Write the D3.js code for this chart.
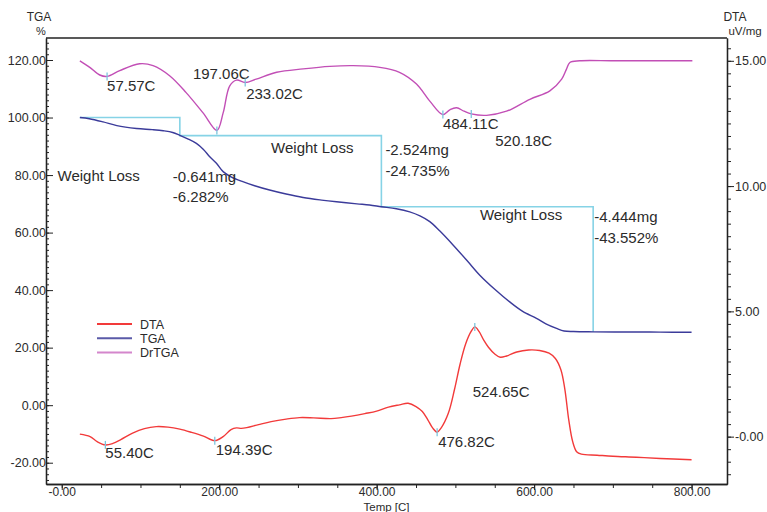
<!DOCTYPE html>
<html>
<head>
<meta charset="utf-8">
<script src="https://cdn.jsdelivr.net/npm/d3@7/dist/d3.min.js"></script>
<style>
  html, body { margin: 0; padding: 0; background: #fff; }
  svg { display: block; font-family: "Liberation Sans", Arial, sans-serif; }
</style>
</head>
<body>
<svg id="chart" width="767" height="512"></svg>
<script>
// ---- Thermal analysis data (temperature in C) ----
// TGA: residual mass, %
const tgaData = [
  [23, 100.0], [35, 99.6], [52.5, 98.5], [70, 97.2], [95, 96.2], [115, 95.8],
  [129, 95.4], [141, 94.8], [150, 93.8], [160, 92.6], [171, 91.0], [180, 88.9],
  [188, 86.4], [196.5, 84.1], [205, 81.2], [215, 79.4], [230, 77.7], [245, 76.3],
  [264, 74.8], [285, 73.4], [306.6, 72.2], [330, 71.3], [349, 70.7], [375, 70.0],
  [391, 69.6], [406, 69.0], [425, 68.3], [442, 67.2], [455, 65.8], [467.5, 63.8],
  [480, 60.6], [497, 55.7], [515, 50.2], [531, 45.2], [550, 40.3], [569, 35.9],
  [585, 32.7], [603, 30.2], [615, 28.3], [628.5, 26.7], [638, 25.8], [650, 25.6],
  [675, 25.5], [720, 25.45], [760, 25.4], [800, 25.35]
];

// DTA: uV/mg
const dtaData = [
  [23, 0.10], [36, 0.00], [45, -0.20], [55.4, -0.33], [65, -0.27], [75, -0.12],
  [90, 0.14], [105, 0.32], [120, 0.40], [135, 0.38], [150, 0.30], [165, 0.17],
  [180, 0.02], [194.4, -0.16], [205, 0.00], [215, 0.28], [222, 0.35], [228, 0.33],
  [235, 0.36], [250, 0.48], [266, 0.60], [285, 0.70], [302, 0.76], [320, 0.75],
  [342, 0.72], [355, 0.76], [368, 0.82], [385, 0.92], [400, 1.02], [415, 1.18],
  [429, 1.27], [440, 1.33], [450, 1.20], [458, 1.00], [465, 0.67], [471, 0.35],
  [476.8, 0.18], [482, 0.35], [491, 0.93], [499, 1.90], [506, 2.90], [513, 3.70],
  [520, 4.20], [524.7, 4.38], [530, 4.20], [536, 3.85], [542, 3.57], [550, 3.30],
  [557, 3.17], [565, 3.22], [578, 3.38], [593, 3.46], [607, 3.44], [619, 3.33],
  [627, 3.12], [634, 2.67], [639, 1.90], [644, 0.67], [649, -0.20], [654, -0.60],
  [660, -0.70], [680, -0.74], [700, -0.78], [730, -0.82], [760, -0.87], [800, -0.92]
];

// DrTGA: mass-loss rate, %/min
const drtgaData = [
  [23, 0.00], [35.6, -0.046], [48.3, -0.100], [57.6, -0.110], [73.7, -0.069],
  [99, -0.021], [116, -0.034], [137, -0.105], [158, -0.224], [179.5, -0.367],
  [197.1, -0.490], [205, -0.367], [213.4, -0.176], [222, -0.136], [233, -0.153],
  [247, -0.129], [273, -0.081], [306.6, -0.057], [340.5, -0.039], [370, -0.034],
  [404, -0.046], [429, -0.081], [450.6, -0.164], [467.5, -0.284], [484.1, -0.379],
  [493, -0.345], [501.5, -0.331], [511, -0.355], [520.2, -0.374], [539.6, -0.384],
  [565, -0.355], [594.6, -0.271], [620, -0.212], [635, -0.129], [641, -0.060],
  [645.4, -0.012], [658, 0.00], [700, 0.00], [750, 0.00], [801, 0.00]
];

// Labelled peaks: [temperature, signal value]
const drtgaPeaks = [[57.57, -0.110], [197.06, -0.490], [233.02, -0.153], [484.11, -0.379], [520.18, -0.374]];
const dtaPeaks   = [[55.40, -0.33], [194.39, -0.16], [476.82, 0.18], [524.65, 4.38]];

// Weight-loss steps
const stepStartTemp = 23;
const stepTemps = [150, 406, 675];
const lossMg    = [-0.641, -2.524, -4.444];
const lossPct   = [-6.282, -24.735, -43.552];

// Axis ticks
const xTicks = [0, 200, 400, 600, 800];
const xTickLabels = ["-0.00", "200.00", "400.00", "600.00", "800.00"];
const tgaTicks = [-20, 0, 20, 40, 60, 80, 100, 120];
const tgaTickLabels = ["-20.00", "0.00", "20.00", "40.00", "60.00", "80.00", "100.00", "120.00"];
const dtaTicks = [0, 5, 10, 15];
const dtaTickLabels = ["-0.00", "5.00", "10.00", "15.00"];

const seriesNames = ["DTA", "TGA", "DrTGA"];

// ---- Layout ----
const svg = d3.select("#chart");
const L = 46, R = 727, T = 38, B = 484;
const colors = { DTA: "#f23a3a", TGA: "#3b3b9a", DrTGA: "#c24fb6", step: "#86d3e6", mark: "#7cc6de" };
const textColor = "#2b2b2b";

const x  = d3.scaleLinear().domain([-20, 845]).range([L, R]);
const yL = d3.scaleLinear().domain([-27.4, 127.65]).range([B, T]);
const yR = d3.scaleLinear().domain([-1.89, 15.91]).range([B, T]);
const yD = d3.scaleLinear().domain([-0.5, 0]).range([yR(15) + 71, yR(15)]);

// ---- Axes ----
function styleAxis(g, size) {
  g.selectAll("path.domain").attr("stroke", "#222").attr("stroke-width", 1.3);
  g.selectAll(".tick line").attr("stroke", "#222").attr("stroke-width", 1);
  g.selectAll(".tick text").attr("fill", textColor).style("font-size", size + "px");
}

// bottom
const xMinor = d3.range(0, 801, 50);
svg.append("g").attr("transform", `translate(0,${B})`)
  .call(d3.axisBottom(x).tickValues(xMinor).tickSize(4).tickSizeOuter(0).tickFormat(""))
  .call(g => styleAxis(g, 12));
svg.append("g").attr("transform", `translate(0,${B})`)
  .call(d3.axisBottom(x).tickValues(xTicks).tickSize(6).tickSizeOuter(0).tickPadding(-3)
    .tickFormat((d, i) => xTickLabels[i]))
  .call(g => styleAxis(g, 12));

// left (ticks point inward)
svg.append("g").attr("transform", `translate(${L},0)`)
  .call(d3.axisLeft(yL).tickValues(d3.range(-26, 127, 2)).tickSize(-3).tickSizeOuter(0).tickFormat(""))
  .call(g => styleAxis(g, 12));
svg.append("g").attr("transform", `translate(${L},0)`)
  .call(d3.axisLeft(yL).tickValues(tgaTicks).tickSize(-7).tickSizeOuter(0).tickPadding(0)
    .tickFormat((d, i) => tgaTickLabels[i]))
  .call(g => styleAxis(g, 12.5));

// right
svg.append("g").attr("transform", `translate(${R},0)`)
  .call(d3.axisRight(yR).tickValues(d3.range(-1.5, 15.6, 0.5)).tickSize(4).tickSizeOuter(0).tickFormat(""))
  .call(g => styleAxis(g, 12));
svg.append("g").attr("transform", `translate(${R},0)`)
  .call(d3.axisRight(yR).tickValues(dtaTicks).tickSize(7).tickSizeOuter(0).tickPadding(1)
    .tickFormat((d, i) => dtaTickLabels[i]))
  .call(g => styleAxis(g, 12.5));

// top frame line
svg.append("line").attr("x1", L).attr("x2", R).attr("y1", T).attr("y2", T)
  .attr("stroke", "#222").attr("stroke-width", 1.3);

// axis titles
const titles = svg.append("g").attr("fill", textColor).style("font-size", "12px");
titles.append("text").attr("x", 39).attr("y", 21).attr("text-anchor", "middle").text("TGA");
titles.append("text").attr("x", 41).attr("y", 35).attr("text-anchor", "middle").style("font-size", "11px").text("%");
titles.append("text").attr("x", 735).attr("y", 21).attr("text-anchor", "middle").text("DTA");
titles.append("text").attr("x", 745).attr("y", 35).attr("text-anchor", "middle").style("font-size", "11.5px").text("uV/mg");
titles.append("text").attr("x", (L + R) / 2).attr("y", 510.5).attr("text-anchor", "middle")
  .style("font-size", "11.5px").text("Temp  [C]");

// ---- Weight-loss step lines ----
const levels = [100];
lossPct.forEach(p => levels.push(levels[levels.length - 1] + p));
const stepPts = [[stepStartTemp, levels[0]]];
stepTemps.forEach((t, i) => { stepPts.push([t, levels[i]]); stepPts.push([t, levels[i + 1]]); });
svg.append("path")
  .attr("d", d3.line().x(d => x(d[0])).y(d => yL(d[1]))(stepPts))
  .attr("fill", "none").attr("stroke", colors.step).attr("stroke-width", 1.6);

// ---- Curves ----
const curve = d3.curveCatmullRom.alpha(0.5);
svg.append("path")
  .attr("d", d3.line().curve(curve).x(d => x(d[0])).y(d => yD(d[1]))(drtgaData))
  .attr("fill", "none").attr("stroke", colors.DrTGA).attr("stroke-width", 1.4);
svg.append("path")
  .attr("d", d3.line().curve(curve).x(d => x(d[0])).y(d => yL(d[1]))(tgaData))
  .attr("fill", "none").attr("stroke", colors.TGA).attr("stroke-width", 1.4);
svg.append("path")
  .attr("d", d3.line().curve(curve).x(d => x(d[0])).y(d => yR(d[1]))(dtaData))
  .attr("fill", "none").attr("stroke", colors.DTA).attr("stroke-width", 1.4);

// ---- Peak markers and labels ----
const ann = svg.append("g").attr("fill", textColor).style("font-size", "15px");
// label offsets from each peak point: [dx, dy]
const drtgaLabelOffsets = [[0, 15], [-24, -51], [1, 16], [0, 14], [24, 32]];
const dtaLabelOffsets   = [[0, 13], [1, 14], [1, 15], [-2, 70]];

function peaks(list, yScale, offsets) {
  list.forEach((p, i) => {
    const px = x(p[0]), py = yScale(p[1]);
    svg.append("line").attr("x1", px).attr("x2", px).attr("y1", py - 4).attr("y2", py + 4)
      .attr("stroke", colors.mark).attr("stroke-width", 1.3);
    ann.append("text").attr("x", px + offsets[i][0]).attr("y", py + offsets[i][1])
      .text(p[0].toFixed(2) + "C");
  });
}
peaks(drtgaPeaks, yD, drtgaLabelOffsets);
peaks(dtaPeaks, yR, dtaLabelOffsets);

// ---- Weight-loss labels ----
// offsets relative to each step's vertical line and upper level
const wlTitleOffsets = [[-40, 63], [-28, 17.5], [-31, 13.5]];
const wlValueOffsets = [[-7, 64], [4, 19.5], [1, 15.5]];
stepTemps.forEach((t, i) => {
  const vx = x(t), uy = yL(levels[i]);
  ann.append("text").attr("x", vx + wlTitleOffsets[i][0]).attr("y", uy + wlTitleOffsets[i][1])
    .attr("text-anchor", "end").text("Weight Loss");
  ann.append("text").attr("x", vx + wlValueOffsets[i][0]).attr("y", uy + wlValueOffsets[i][1])
    .text(lossMg[i].toFixed(3) + "mg");
  ann.append("text").attr("x", vx + wlValueOffsets[i][0]).attr("y", uy + wlValueOffsets[i][1] + 20.5)
    .text(lossPct[i].toFixed(3) + "%");
});

// ---- Legend ----
const legend = svg.append("g").attr("transform", "translate(97,324)");
const legendColors = { DTA: colors.DTA, TGA: "#5a5aa8", DrTGA: "#d486cc" };
seriesNames.forEach((name, i) => {
  const gy = i * 14.2;
  legend.append("line").attr("x1", 0).attr("x2", 35).attr("y1", gy).attr("y2", gy)
    .attr("stroke", legendColors[name]).attr("stroke-width", 2);
  legend.append("text").attr("x", 43).attr("y", gy + 4.5).attr("fill", textColor)
    .style("font-size", "12.5px").text(name);
});
</script>
</body>
</html>
